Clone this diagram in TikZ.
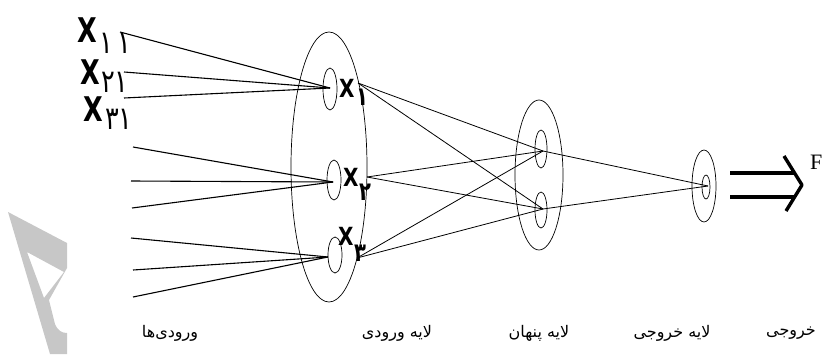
\documentclass[tikz,border=0pt]{standalone}
\usepackage{fontspec}
\usetikzlibrary{shapes.geometric}
\setmainfont{Liberation Serif}
\newfontfamily\xfont{DejaVu Sans}
\newfontfamily\arabicfont[Script=Arabic]{DejaVu Sans}
\TeXXeTstate=1
\begin{document}
\begin{tikzpicture}[x=1pt,y=-1pt,
  ell/.style={draw,ellipse,inner sep=0pt,line width=0.7pt},
  wire/.style={line width=1.1pt},
  thin wire/.style={line width=0.8pt},
  bigx/.style={inner sep=0pt,anchor=south west,font=\fontsize{34}{34}\xfont\bfseries,xscale=0.75},
  smallx/.style={inner sep=0pt,anchor=south west,font=\fontsize{25}{25}\xfont\bfseries,xscale=0.8},
  bigsub/.style={inner sep=0pt,anchor=south west,font=\fontsize{32}{32}\xfont,xscale=0.8},
  smallsub/.style={inner sep=0pt,anchor=south west,font=\fontsize{26}{26}\xfont\bfseries,xscale=0.75},
  lab/.style={inner sep=0pt,font=\fontsize{16}{18}\arabicfont},
  dbl/.style={line width=3.4pt}]
\useasboundingbox (0,0) rectangle (825,354);
% watermark
\fill[black!22,even odd rule] (8,212) -- (67,243) -- (67,268) -- (49,300) -- (55,324) .. controls (58,331) and (62,333) .. (67,333) -- (67,354) -- (50,354) -- cycle
  (27,252) -- (64,272) -- (44,298) -- cycle;
% ellipses
\node[ell,minimum width=76pt,minimum height=270pt] (inlayer) at (329,167) {};
\node[ell,minimum width=14pt,minimum height=42pt] (e1) at (330,89) {};
\node[ell,minimum width=14pt,minimum height=40pt] (e2) at (334,180) {};
\node[ell,minimum width=14pt,minimum height=36pt] (e3) at (335,255) {};
\node[ell,minimum width=48pt,minimum height=150pt] (hidlayer) at (539,175) {};
\node[ell,minimum width=12pt,minimum height=38pt] (h1e) at (541,149) {};
\node[ell,minimum width=12pt,minimum height=36pt] (h2e) at (541,210) {};
\node[ell,minimum width=24pt,minimum height=72pt] (outlayer) at (704,186) {};
\node[ell,minimum width=8pt,minimum height=24pt] (oe) at (706,187) {};
% connection points
\coordinate (p1) at (330,88);
\coordinate (p2) at (333,182);
\coordinate (p3) at (328,257);
\coordinate (q1) at (358,83);
\coordinate (q2) at (367,177);
\coordinate (q3) at (357,258);
\coordinate (h1) at (543,151);
\coordinate (h2) at (543,209);
\coordinate (o) at (708,186);
\coordinate (s1) at (120,32);
\coordinate (s2) at (124,72);
\coordinate (s3) at (124,98);
\coordinate (s4) at (133,147);
\coordinate (s5) at (131,181);
\coordinate (s6) at (132,208);
\coordinate (s7) at (131,238);
\coordinate (s8) at (133,270);
\coordinate (s9) at (133,297);
% input wires
\draw[wire] (s1) -- (p1); \draw[wire] (s2) -- (p1); \draw[wire] (s3) -- (p1);
\draw[wire] (s4) -- (p2); \draw[wire] (s5) -- (p2); \draw[wire] (s6) -- (p2);
\draw[wire] (s7) -- (p3); \draw[wire] (s8) -- (p3); \draw[wire] (s9) -- (p3);
% hidden wires
\foreach \a in {q1,q2,q3}{\draw[thin wire] (\a) -- (h1); \draw[thin wire] (\a) -- (h2);}
\draw[thin wire] (h1) -- (o);
\draw[thin wire] (h2) -- (o);
% labels X
\node[bigx] (x11) at (77,43) {X};
\node[bigsub] (x11s) at (99,54) {۱\,۱};
\node[bigx] (x21) at (80,85) {X};
\node[bigsub] (x21s) at (101,93) {۲۱};
\node[bigx] (x31) at (83,122) {X};
\node[bigsub] (x31s) at (105,130) {۳۱};
\node[smallx] (x1) at (339,98) {X};
\node[smallsub] (x1s) at (356,106) {۱};
\node[smallx] (x2) at (343,187) {X};
\node[smallsub] (x2s) at (359,201) {۲};
\node[smallx] (x3) at (338,246) {X};
\node[smallsub] (x3s) at (354,262) {۳};
% output arrow
\coordinate (a1) at (730,173);
\coordinate (a2) at (794,173);
\coordinate (a3) at (730,197);
\coordinate (a4) at (794,197);
\draw[dbl] (a1) -- (a2);
\draw[dbl] (a3) -- (a4);
\coordinate (c1) at (784,156);
\coordinate (c2) at (802,185);
\coordinate (c3) at (786,211);
\draw[dbl,line join=round] (c1) -- (c2) -- (c3);
\node[inner sep=0pt,anchor=south west,font=\fontsize{22}{22}\selectfont] (F) at (810,170) {F};
% bottom labels
\node[lab] (l1) at (170,333) {\beginR ورودی‌ها\endR};
\node[lab] (l2) at (397,333) {\beginR لایه ورودی\endR};
\node[lab] (l3) at (539,333) {\beginR لایه پنهان\endR};
\node[lab] (l4) at (672,333) {\beginR لایه خروجی\endR};
\node[lab] (l5) at (791,333) {\beginR خروجی\endR};
\end{tikzpicture}
\end{document}
